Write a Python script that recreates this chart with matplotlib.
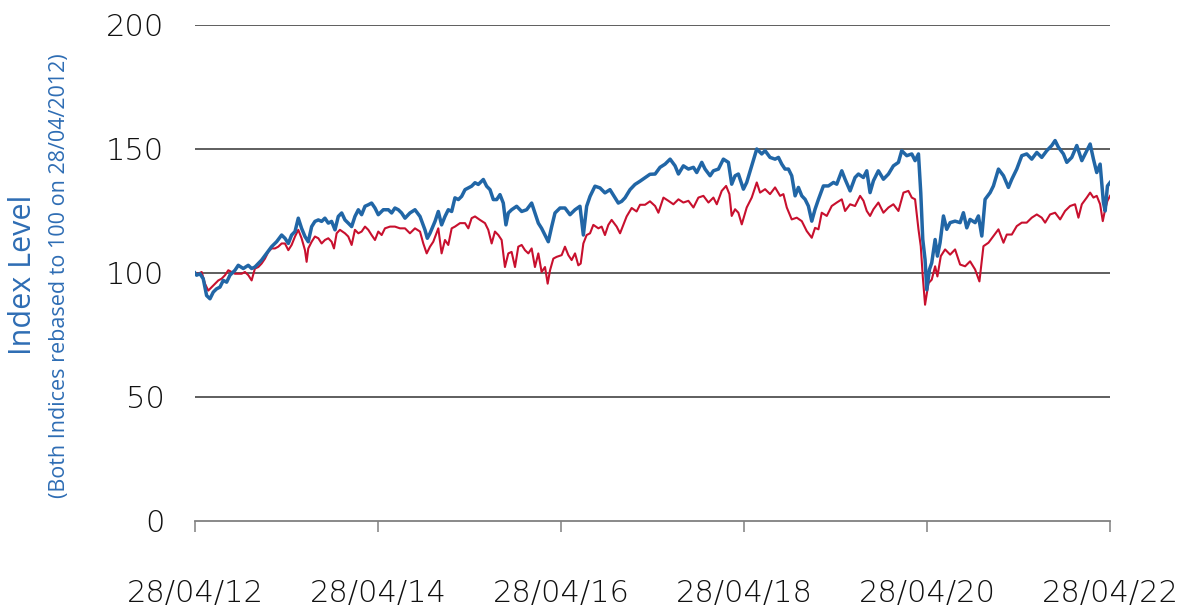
import matplotlib.pyplot as plt

# values, x as decimal years (28/04/2012 = 2012.32)
blue_x = [2012.32, 2012.338, 2012.374, 2012.41, 2012.447, 2012.484, 2012.52, 2012.556, 2012.593, 2012.629,
          2012.666, 2012.702, 2012.757, 2012.793, 2012.848, 2012.902, 2012.939, 2012.975, 2013.012, 2013.048,
          2013.103, 2013.157, 2013.212, 2013.267, 2013.303, 2013.34, 2013.376, 2013.413, 2013.449, 2013.485,
          2013.522, 2013.558, 2013.595, 2013.631, 2013.668, 2013.704, 2013.74, 2013.777, 2013.813, 2013.85,
          2013.886, 2013.923, 2013.959, 2013.995, 2014.032, 2014.068, 2014.105, 2014.141, 2014.178, 2014.214,
          2014.25, 2014.287, 2014.323, 2014.378, 2014.433, 2014.469, 2014.505, 2014.542, 2014.578, 2014.615,
          2014.669, 2014.724, 2014.779, 2014.833, 2014.859, 2014.888, 2014.943, 2014.979, 2015.015, 2015.052,
          2015.088, 2015.125, 2015.161, 2015.198, 2015.234, 2015.271, 2015.307, 2015.343, 2015.38, 2015.416,
          2015.471, 2015.507, 2015.544, 2015.58, 2015.617, 2015.653, 2015.689, 2015.718, 2015.744, 2015.78,
          2015.835, 2015.89, 2015.944, 2015.999, 2016.035, 2016.072, 2016.108, 2016.145, 2016.181, 2016.218,
          2016.254, 2016.309, 2016.363, 2016.418, 2016.473, 2016.527, 2016.564, 2016.6, 2016.637, 2016.691,
          2016.746, 2016.8, 2016.855, 2016.91, 2016.946, 2016.983, 2017.019, 2017.074, 2017.128, 2017.183,
          2017.238, 2017.292, 2017.348, 2017.402, 2017.457, 2017.512, 2017.566, 2017.603, 2017.657, 2017.712,
          2017.767, 2017.803, 2017.858, 2017.894, 2017.949, 2017.985, 2018.04, 2018.094, 2018.149, 2018.185,
          2018.222, 2018.258, 2018.313, 2018.349, 2018.404, 2018.459, 2018.513, 2018.55, 2018.604, 2018.659,
          2018.696, 2018.732, 2018.768, 2018.805, 2018.841, 2018.878, 2018.914, 2018.951, 2018.987, 2019.023,
          2019.06, 2019.096, 2019.133, 2019.187, 2019.242, 2019.297, 2019.333, 2019.388, 2019.424, 2019.479,
          2019.533, 2019.57, 2019.624, 2019.661, 2019.697, 2019.734, 2019.788, 2019.843, 2019.898, 2019.952,
          2020.007, 2020.043, 2020.098, 2020.153, 2020.189, 2020.226, 2020.251, 2020.273, 2020.298, 2020.317,
          2020.346, 2020.371, 2020.408, 2020.433, 2020.462, 2020.499, 2020.535, 2020.572, 2020.626, 2020.681,
          2020.717, 2020.754, 2020.79, 2020.845, 2020.881, 2020.918, 2020.954, 2021.009, 2021.045, 2021.1,
          2021.155, 2021.209, 2021.246, 2021.3, 2021.355, 2021.409, 2021.464, 2021.519, 2021.573, 2021.628,
          2021.683, 2021.719, 2021.755, 2021.81, 2021.847, 2021.901, 2021.956, 2022.011, 2022.065, 2022.102,
          2022.138, 2022.174, 2022.211, 2022.247, 2022.266, 2022.291, 2022.32]
blue_y = [100.0, 99.1, 99.7, 97.7, 90.9, 89.6, 92.3, 93.6, 94.3, 97.0,
          96.3, 99.1, 101.1, 103.1, 101.8, 103.1, 101.8, 102.4, 103.8, 105.2,
          107.9, 110.6, 112.6, 115.3, 114.0, 111.9, 115.3, 116.7, 122.1, 118.0,
          114.7, 112.6, 118.7, 120.8, 121.4, 120.8, 122.1, 120.1, 120.8, 117.4,
          122.8, 124.2, 121.4, 120.1, 118.7, 122.8, 125.5, 123.5, 126.9, 127.5,
          128.2, 126.2, 123.5, 125.5, 125.5, 124.2, 126.2, 125.5, 124.2, 122.1,
          124.2, 125.5, 122.8, 117.4, 114.0, 116.0, 120.8, 124.8, 119.4, 122.8,
          125.5, 124.8, 130.3, 129.6, 130.9, 133.6, 134.3, 135.0, 136.4, 135.7,
          137.7, 135.0, 133.6, 129.6, 129.6, 131.6, 128.2, 119.4, 124.2, 125.5,
          126.9, 124.8, 125.5, 128.2, 124.2, 120.1, 118.0, 115.3, 112.6, 118.7,
          124.2, 126.2, 126.2, 123.5, 125.5, 126.9, 115.3, 126.9, 130.9, 135.0,
          134.3, 132.3, 133.6, 130.3, 128.2, 128.9, 130.3, 133.6, 135.7, 137.0,
          138.4, 139.8, 139.9, 142.6, 143.9, 145.9, 143.2, 139.9, 143.2, 141.9,
          142.6, 140.5, 144.6, 141.9, 139.2, 141.2, 141.9, 145.9, 144.6, 135.8,
          139.2, 139.9, 133.8, 136.5, 143.2, 150.0, 148.0, 149.3, 146.6, 145.9,
          146.6, 143.9, 141.9, 141.9, 139.2, 131.1, 134.5, 131.1, 129.7, 127.0,
          120.9, 125.7, 129.7, 135.1, 135.1, 136.5, 135.8, 141.2, 137.8, 133.1,
          138.5, 139.9, 138.5, 141.2, 132.4, 137.2, 141.2, 137.8, 139.9, 143.2,
          144.6, 149.3, 147.3, 148.0, 145.3, 148.0, 132.4, 113.5, 105.4, 93.2,
          101.4, 104.1, 113.5, 106.8, 112.2, 123.0, 117.6, 120.3, 120.9, 120.3,
          124.3, 118.2, 121.6, 120.3, 123.0, 114.9, 129.7, 132.4, 135.1, 141.9,
          139.2, 134.5, 137.8, 141.9, 147.3, 148.0, 145.9, 148.6, 146.6, 149.3,
          151.4, 153.4, 150.7, 148.0, 144.6, 146.6, 151.4, 145.3, 149.3, 152.0,
          145.9, 140.5, 143.9, 128.4, 125.0, 135.1, 136.5]

red_x = [2012.32, 2012.356, 2012.393, 2012.429, 2012.465, 2012.502, 2012.538, 2012.575, 2012.611, 2012.648,
         2012.684, 2012.72, 2012.757, 2012.793, 2012.83, 2012.866, 2012.903, 2012.939, 2012.975, 2013.012,
         2013.048, 2013.085, 2013.121, 2013.157, 2013.194, 2013.23, 2013.267, 2013.303, 2013.34, 2013.376,
         2013.413, 2013.449, 2013.485, 2013.522, 2013.54, 2013.558, 2013.595, 2013.631, 2013.668, 2013.704,
         2013.74, 2013.777, 2013.813, 2013.839, 2013.868, 2013.904, 2013.959, 2013.995, 2014.032, 2014.068,
         2014.105, 2014.141, 2014.178, 2014.214, 2014.25, 2014.287, 2014.323, 2014.36, 2014.396, 2014.451,
         2014.505, 2014.56, 2014.615, 2014.669, 2014.724, 2014.779, 2014.815, 2014.852, 2014.888, 2014.924,
         2014.979, 2015.015, 2015.052, 2015.088, 2015.125, 2015.161, 2015.216, 2015.271, 2015.307, 2015.343,
         2015.38, 2015.434, 2015.489, 2015.525, 2015.562, 2015.598, 2015.635, 2015.671, 2015.707, 2015.744,
         2015.78, 2015.817, 2015.853, 2015.89, 2015.926, 2015.963, 2015.999, 2016.035, 2016.072, 2016.108,
         2016.145, 2016.174, 2016.2, 2016.236, 2016.272, 2016.327, 2016.363, 2016.4, 2016.436, 2016.473,
         2016.509, 2016.535, 2016.564, 2016.6, 2016.637, 2016.673, 2016.728, 2016.764, 2016.8, 2016.837,
         2016.873, 2016.928, 2016.965, 2017.001, 2017.037, 2017.092, 2017.146, 2017.183, 2017.238, 2017.292,
         2017.348, 2017.384, 2017.439, 2017.493, 2017.548, 2017.603, 2017.657, 2017.712, 2017.767, 2017.821,
         2017.876, 2017.931, 2017.985, 2018.022, 2018.076, 2018.124, 2018.16, 2018.185, 2018.222, 2018.258,
         2018.295, 2018.349, 2018.404, 2018.459, 2018.495, 2018.55, 2018.604, 2018.659, 2018.714, 2018.75,
         2018.787, 2018.841, 2018.896, 2018.951, 2019.005, 2019.06, 2019.096, 2019.133, 2019.169, 2019.224,
         2019.278, 2019.333, 2019.388, 2019.424, 2019.479, 2019.533, 2019.588, 2019.625, 2019.661, 2019.697,
         2019.734, 2019.788, 2019.843, 2019.898, 2019.952, 2020.007, 2020.062, 2020.116, 2020.153, 2020.189,
         2020.226, 2020.251, 2020.273, 2020.298, 2020.335, 2020.371, 2020.408, 2020.433, 2020.47, 2020.517,
         2020.572, 2020.626, 2020.681, 2020.736, 2020.79, 2020.845, 2020.892, 2020.936, 2020.991, 2021.045,
         2021.1, 2021.155, 2021.191, 2021.246, 2021.3, 2021.355, 2021.409, 2021.464, 2021.519, 2021.573,
         2021.61, 2021.664, 2021.719, 2021.774, 2021.828, 2021.883, 2021.937, 2021.974, 2022.011, 2022.065,
         2022.102, 2022.138, 2022.174, 2022.211, 2022.24, 2022.266, 2022.291, 2022.32]
red_y = [100.0, 99.7, 100.4, 95.7, 92.9, 94.3, 95.7, 97.0, 97.7, 99.1,
         101.1, 100.4, 99.7, 99.7, 99.7, 100.4, 99.1, 97.0, 101.8, 102.4,
         103.8, 105.8, 108.5, 109.9, 109.9, 110.6, 111.9, 111.9, 109.2, 111.3,
         114.7, 117.4, 114.0, 109.2, 104.5, 109.9, 112.6, 114.7, 114.0, 111.9,
         113.3, 114.0, 112.6, 109.9, 116.0, 117.4, 116.0, 114.7, 111.3, 117.4,
         116.0, 116.7, 118.7, 117.4, 115.3, 113.3, 116.7, 115.3, 118.0, 118.7,
         118.7, 118.0, 118.0, 116.0, 118.0, 116.7, 111.9, 107.9, 110.6, 112.6,
         118.0, 107.9, 113.3, 111.3, 118.0, 118.7, 120.1, 120.1, 118.0, 122.1,
         122.8, 121.4, 120.1, 117.4, 111.9, 116.7, 115.3, 113.3, 102.4, 107.9,
         108.5, 102.4, 110.6, 111.3, 109.2, 107.9, 109.9, 102.4, 107.9, 100.4,
         102.4, 95.7, 101.1, 105.8, 106.5, 107.2, 110.6, 107.2, 105.2, 107.9,
         103.1, 103.8, 111.9, 115.3, 116.0, 119.4, 118.0, 118.7, 115.3, 119.4,
         121.4, 118.7, 116.0, 119.4, 122.8, 126.2, 124.8, 127.5, 127.5, 128.9,
         127.0, 124.3, 130.4, 129.1, 127.7, 129.7, 128.4, 129.1, 126.4, 130.4,
         131.1, 128.4, 130.4, 127.7, 133.1, 135.1, 131.8, 123.0, 125.7, 124.3,
         119.6, 126.4, 130.4, 136.5, 132.4, 133.8, 131.8, 134.5, 131.1, 131.8,
         126.4, 121.6, 122.3, 120.9, 116.9, 114.2, 118.2, 117.6, 124.3, 123.0,
         127.0, 128.4, 129.7, 125.0, 127.7, 127.0, 131.1, 129.1, 125.0, 123.0,
         125.7, 128.4, 124.3, 126.4, 127.7, 125.0, 132.4, 133.1, 130.4, 129.7,
         117.6, 110.8, 98.6, 87.2, 95.9, 97.3, 102.7, 98.6, 106.8, 109.5,
         107.4, 109.5, 103.4, 102.7, 104.7, 101.4, 96.6, 110.8, 112.2, 114.9,
         117.6, 112.2, 115.5, 115.5, 118.9, 120.3, 120.3, 122.3, 123.6, 122.3,
         120.3, 123.6, 124.3, 121.6, 125.0, 127.0, 127.7, 122.3, 127.7, 130.4,
         132.4, 130.4, 131.1, 127.7, 120.9, 125.7, 129.1, 131.1]

tick_pos = [2012.32, 2014.32, 2016.32, 2018.32, 2020.32, 2022.32]
tick_labels = ["28/04/12", "28/04/14", "28/04/16", "28/04/18", "28/04/20", "28/04/22"]
y_ticks = [0, 50, 100, 150, 200]

plt.rcParams['font.family'] = ['Open Sans', 'DejaVu Sans']

fig = plt.figure(figsize=(11.86, 6.09), dpi=100)
ax = fig.add_axes([0.1644, 0.1445, 0.7716, 0.8145])

ax.plot(red_x, red_y, color="#C8102E", lw=1.5, zorder=3)
ax.plot(blue_x, blue_y, color="#2166A6", lw=2.5, zorder=4)

ax.set_ylim(0, 200)
ax.set_xlim(tick_pos[0], tick_pos[-1])
ax.set_yticks(y_ticks)
ax.set_xticks(tick_pos)
ax.set_xticklabels(tick_labels)

for v in y_ticks[1:]:
    ax.axhline(v, color="#333333", lw=1.1, zorder=1)

for s in ["left", "right", "top"]:
    ax.spines[s].set_visible(False)
ax.spines["bottom"].set_color("#808080")
ax.spines["bottom"].set_linewidth(1.3)

ax.tick_params(axis="y", length=0, pad=22, labelsize=22, labelcolor="#111111")
ax.tick_params(axis="x", direction="out", length=8, width=1.1, color="#808080",
               pad=34, labelsize=22, labelcolor="#111111")
for lab in ax.get_xticklabels() + ax.get_yticklabels():
    lab.set_family(["DejaVu Sans"])
    lab.set_fontweight("light")

fig.text(0.019, 0.548, "Index Level", rotation=90, ha="center", va="center",
         fontsize=22, color="#2E6DB4")
fig.text(0.05, 0.548, "(Both Indices rebased to 100 on 28/04/2012)", rotation=90,
         ha="center", va="center", fontsize=15.5, color="#2E6DB4")

fig.savefig("out.png", dpi=100)
